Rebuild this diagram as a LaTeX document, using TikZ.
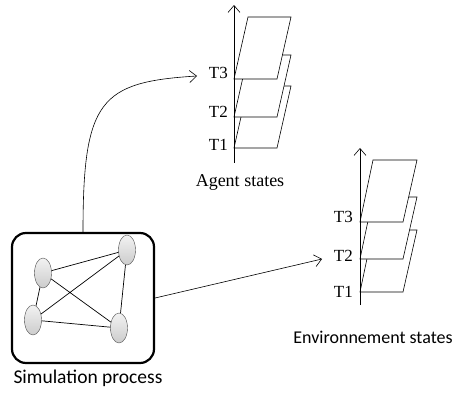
\documentclass[tikz,border=0pt]{standalone}
\usepackage{fontspec}
\setmainfont{Liberation Serif}
\newfontfamily\carlito{Carlito}
\usetikzlibrary{arrows.meta,shapes.geometric}

\begin{document}
\begin{tikzpicture}[x=1pt,y=-1pt,>={Straight Barb[length=7pt,width=12pt]},
  simbox/.style={draw,line width=2.2pt,rounded corners=14pt,minimum width=142pt,minimum height=130pt},
  agent/.style={ellipse,draw=gray!60!black,top color=gray!10,bottom color=gray!40,minimum width=17pt,minimum height=30pt,inner sep=0pt},
  state/.style={draw,fill=white,line width=0.6pt},
  tlabel/.style={anchor=east,font=\fontsize{17}{20}\selectfont,inner sep=1pt}]
\useasboundingbox (0,0) rectangle (456,396);

% simulation process
\node[simbox] (sim) at (83,298) {};
\node[font=\carlito\fontsize{19.5}{22}\selectfont] (simlab) at (88,378) {Simulation process};
\node[agent] (n1) at (43,273) {};
\node[agent] (n2) at (127,250) {};
\node[agent] (n3) at (33,320) {};
\node[agent] (n4) at (119,328) {};
\draw[line width=0.7pt] (n1)--(n2) (n1)--(n3) (n1)--(n4) (n3)--(n2) (n3)--(n4) (n2)--(n4);

% agent states
\foreach \yb in {148,117,79}
  \filldraw[state] (234,\yb)--(277,\yb)--(291,\yb-62)--(248,\yb-62)--cycle;
\draw[->,line width=0.6pt] (234,163)--(234,5);
\node[tlabel] (a3) at (229,73) {T3};
\node[tlabel] (a2) at (229,112) {T2};
\node[tlabel] (a1) at (229,145) {T1};
\node[font=\fontsize{18}{21}\selectfont] (agentlab) at (240,183) {Agent states};

% environment states
\foreach \yb in {292,259,222}
  \filldraw[state] (360,\yb)--(403,\yb)--(417,\yb-62)--(373,\yb-62)--cycle;
\draw[->,line width=0.6pt] (360,305)--(360,148);
\node[tlabel] (e3) at (354,217) {T3};
\node[tlabel] (e2) at (354,256) {T2};
\node[tlabel] (e1) at (354,292) {T1};
\node[font=\carlito\fontsize{18}{21}\selectfont] (envlab) at (373,337) {Environnement states};

% links
\coordinate (agtin) at (197,76);
\coordinate (envin) at (322,259);
\draw[->,line width=0.6pt] (sim.north) .. controls (83,100) and (100,82) .. (agtin);
\draw[->,line width=0.6pt] (sim.east) -- (envin);

\end{tikzpicture}
\end{document}
